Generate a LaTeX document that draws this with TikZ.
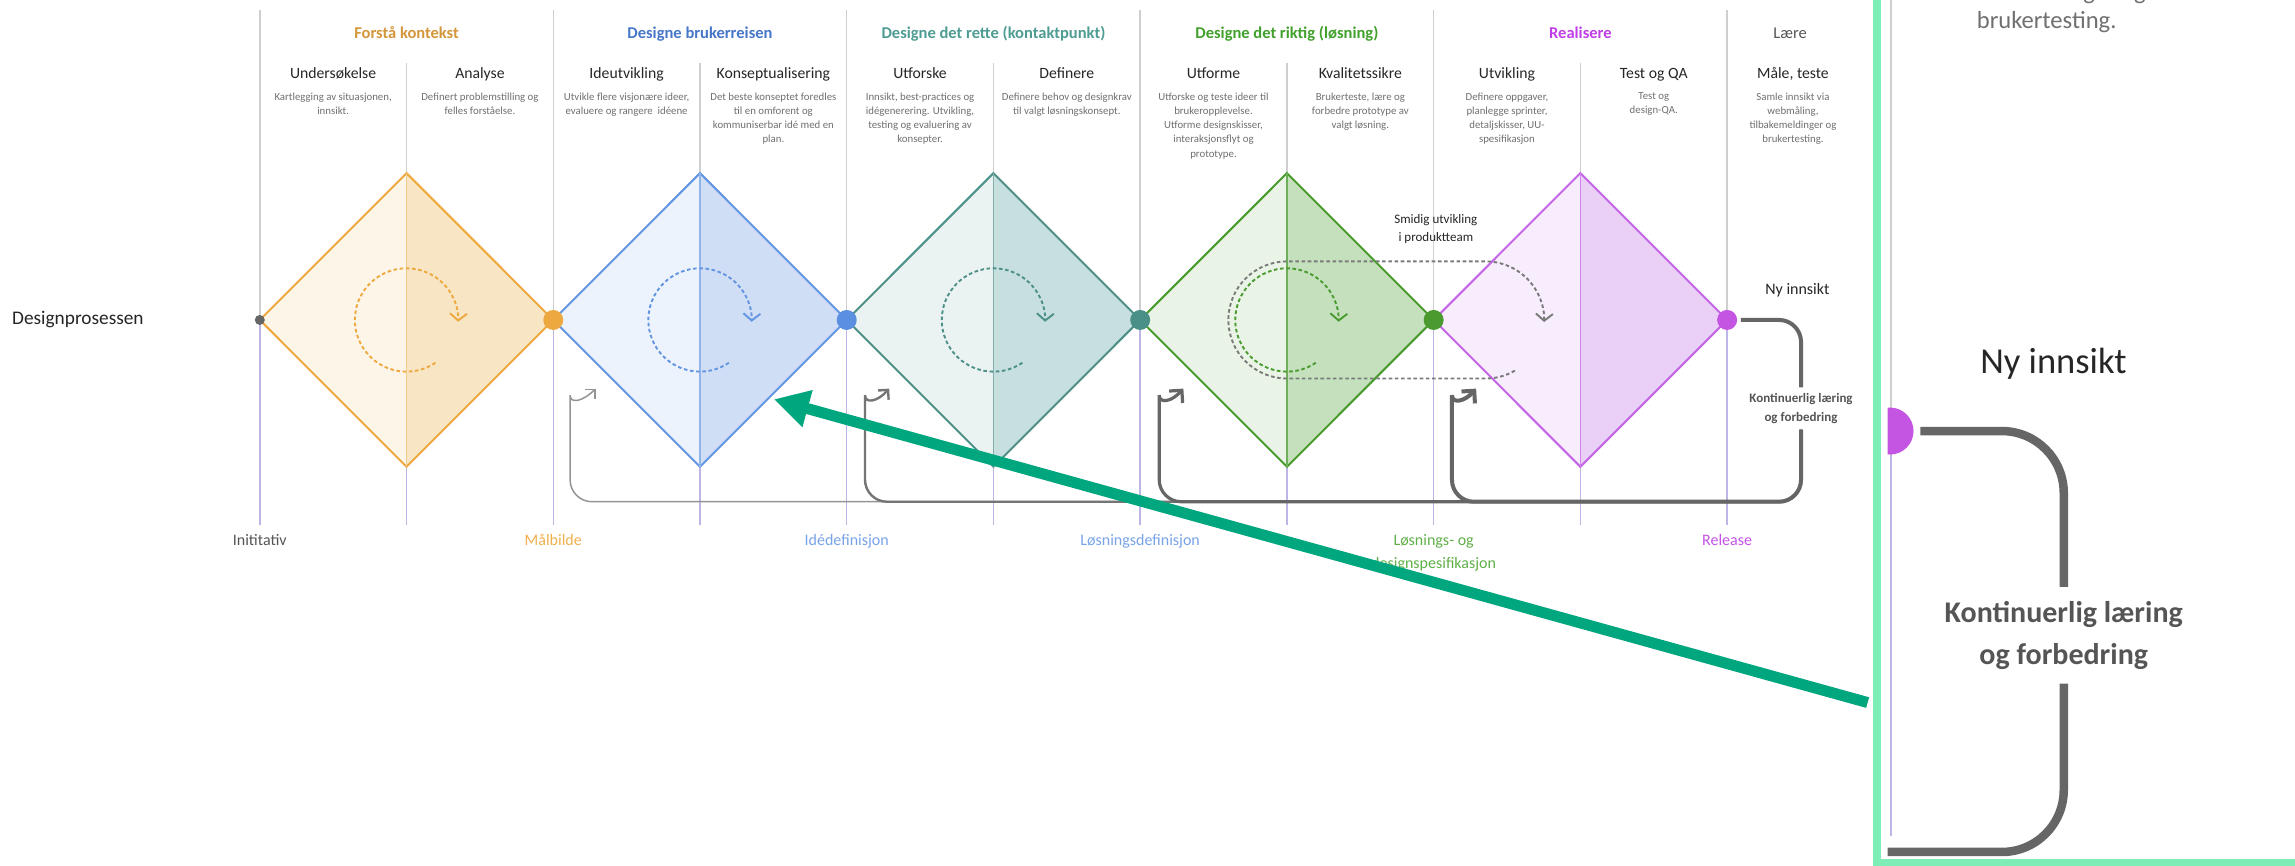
\documentclass[tikz,border=0pt]{standalone}
\usepackage{fontspec}
\setmainfont{Carlito}
\usepackage{tikz}
\usetikzlibrary{
  arrows.meta,
  positioning
}
\usepackage{color}
\definecolor{rulegrey}{HTML}{CFCFCF}
\definecolor{rulelav}{HTML}{BDB5E6}
\definecolor{darktext}{HTML}{262626}
\definecolor{midtext}{HTML}{555555}
\definecolor{blurbgrey}{HTML}{707070}
\definecolor{loopgrey}{HTML}{666666}
\definecolor{smidiggrey}{HTML}{7A7A7A}
\definecolor{arrowgreen}{HTML}{00A67E}
\definecolor{insetmint}{HTML}{7FEDB6}
\definecolor{orline}{HTML}{EDA940}
\definecolor{orleft}{HTML}{FDF5E7}
\definecolor{orright}{HTML}{F8E5C3}
\definecolor{ortext}{HTML}{D4963A}
\definecolor{orlabel}{HTML}{F0B04E}
\definecolor{blline}{HTML}{6495E0}
\definecolor{blleft}{HTML}{ECF3FD}
\definecolor{blright}{HTML}{CFDEF5}
\definecolor{bldot}{HTML}{5B8FDF}
\definecolor{bltext}{HTML}{4777C9}
\definecolor{bllabel}{HTML}{78A3EA}
\definecolor{tlline}{HTML}{4D9088}
\definecolor{tlleft}{HTML}{EAF3F2}
\definecolor{tlright}{HTML}{C7DFDF}
\definecolor{tldot}{HTML}{4A8F88}
\definecolor{tltext}{HTML}{4F9C93}
\definecolor{grline}{HTML}{4A9B30}
\definecolor{grleft}{HTML}{E9F3E6}
\definecolor{grright}{HTML}{C4E0BC}
\definecolor{grdot}{HTML}{4A9A30}
\definecolor{grtext}{HTML}{41A12C}
\definecolor{grlabel}{HTML}{5FB048}
\definecolor{puline}{HTML}{C266E6}
\definecolor{puleft}{HTML}{F8EDFC}
\definecolor{puright}{HTML}{EACFF6}
\definecolor{pudot}{HTML}{C455E2}
\definecolor{putext}{HTML}{C03FE6}
\definecolor{pulabel}{HTML}{C552E8}

\begin{document}
\begin{tikzpicture}[
      x=1.4636pt,y=-1.4636pt,
      phase title/.style={
         font=\bfseries\fontsize{16.5}{19}\selectfont,
         anchor=base,
         inner sep=0pt
      },
      subhead/.style={
         font=\fontsize{15.7}{19}\selectfont,
         text=darktext,
         anchor=base,
         inner sep=0pt
      },
      blurb/.style={
         font=\fontsize{10.8}{14.2}\selectfont,
         text=blurbgrey,
         align=center,
         anchor=north,
         inner sep=0pt
      },
      milestone/.style={
         font=\fontsize{16}{23}\selectfont,
         anchor=base,
         inner sep=0pt
      },
      gate/.style={circle,inner sep=0pt,minimum size=20pt},
      upper rule/.style={draw=rulegrey,line width=1.5pt},
      lower rule/.style={draw=rulelav,line width=1.5pt},
      rim/.style={line width=2pt,line join=miter},
      spin/.style={dash pattern=on 3.6pt off 2.6pt,line width=1.9pt,
         -{Straight Barb[length=7pt,width=17pt]}},
      back path/.style={rounded corners=22pt,draw=loopgrey},
      small tip/.style={-{Straight Barb[length=7pt,width=14pt]}},
      large tip/.style={-{Straight Barb[length=9pt,width=18pt]}},
    ]
    \useasboundingbox (0,0) rectangle (1568,591);
    \fill[white] (0,0) rectangle (1568,591);
    % rules
    \draw[upper rule] (177.5,6.8) -- (177.5,218.6) (378,6.8) -- (378,218.6)
       (578.5,6.8) -- (578.5,218.6) (779,6.8) -- (779,218.6)
       (979.5,6.8) -- (979.5,218.6) (1180,6.8) -- (1180,218.6);
    \draw[upper rule] (277.75,43) -- (277.75,118.3) (478.25,43) -- (478.25,118.3)
       (678.75,43) -- (678.75,118.3) (879.25,43) -- (879.25,118.3)
       (1079.75,43) -- (1079.75,118.3);
    \draw[lower rule] (177.5,218.6) -- (177.5,358.7) (378,218.6) -- (378,358.7)
       (578.5,218.6) -- (578.5,358.7) (779,218.6) -- (779,358.7)
       (979.5,218.6) -- (979.5,358.7) (1180,218.6) -- (1180,358.7);
    \draw[lower rule] (277.75,318.9) -- (277.75,358.7) (478.25,318.9) -- (478.25,358.7)
       (678.75,318.9) -- (678.75,358.7) (879.25,318.9) -- (879.25,358.7)
       (1079.75,318.9) -- (1079.75,358.7);
    % diamonds
    \fill[orleft] (177.5,218.6) -- (277.75,118.3) -- (277.75,318.9) -- cycle;
    \fill[orright] (277.75,118.3) -- (378,218.6) -- (277.75,318.9) -- cycle;
    \draw[rim,draw=orline] (177.5,218.6) -- (277.75,118.3) -- (378,218.6) -- (277.75,318.9) -- cycle;
    \draw[draw=orline!60,line width=1.5pt] (277.75,118.3) -- (277.75,318.9);
    \fill[blleft] (378,218.6) -- (478.25,118.3) -- (478.25,318.9) -- cycle;
    \fill[blright] (478.25,118.3) -- (578.5,218.6) -- (478.25,318.9) -- cycle;
    \draw[rim,draw=blline] (378,218.6) -- (478.25,118.3) -- (578.5,218.6) -- (478.25,318.9) -- cycle;
    \draw[draw=blline!70,line width=1.5pt] (478.25,118.3) -- (478.25,318.9);
    \fill[tlleft] (578.5,218.6) -- (678.75,118.3) -- (678.75,318.9) -- cycle;
    \fill[tlright] (678.75,118.3) -- (779,218.6) -- (678.75,318.9) -- cycle;
    \draw[rim,draw=tlline] (578.5,218.6) -- (678.75,118.3) -- (779,218.6) -- (678.75,318.9) -- cycle;
    \draw[draw=tlline!70,line width=1.5pt] (678.75,118.3) -- (678.75,318.9);
    \fill[grleft] (779,218.6) -- (879.25,118.3) -- (879.25,318.9) -- cycle;
    \fill[grright] (879.25,118.3) -- (979.5,218.6) -- (879.25,318.9) -- cycle;
    \draw[rim,draw=grline] (779,218.6) -- (879.25,118.3) -- (979.5,218.6) -- (879.25,318.9) -- cycle;
    \draw[draw=grline!80,line width=1.5pt] (879.25,118.3) -- (879.25,318.9);
    \fill[puleft] (979.5,218.6) -- (1079.75,118.3) -- (1079.75,318.9) -- cycle;
    \fill[puright] (1079.75,118.3) -- (1180,218.6) -- (1079.75,318.9) -- cycle;
    \draw[rim,draw=puline] (979.5,218.6) -- (1079.75,118.3) -- (1180,218.6) -- (1079.75,318.9) -- cycle;
    \draw[draw=puline!80,line width=1.5pt] (1079.75,118.3) -- (1079.75,318.9);
    % iteration circles
    \draw[spin,draw=orline] (277.75,218.6) ++(56:35.3) arc[start angle=56,end angle=362,radius=35.3];
    \draw[spin,draw=blline] (478.25,218.6) ++(56:35.3) arc[start angle=56,end angle=362,radius=35.3];
    \draw[spin,draw=tlline] (678.75,218.6) ++(56:35.3) arc[start angle=56,end angle=362,radius=35.3];
    \draw[spin,draw=grline] (879.25,218.6) ++(56:35.3) arc[start angle=56,end angle=362,radius=35.3];
    \draw[spin,draw=smidiggrey] (1015,218.6) ++(60:40) arc[start angle=60,end angle=90,radius=40]
       -- (879.25,258.6) arc[start angle=90,end angle=270,radius=40]
       -- (1015,178.6) arc[start angle=270,end angle=362,radius=40];
    % gates
    \node (g0) [gate,minimum size=10pt,fill=loopgrey] at (177.5,218.6) {};
    \node (g1) [gate,fill=orline] at (378,218.6) {};
    \node (g2) [gate,fill=bldot] at (578.5,218.6) {};
    \node (g3) [gate,fill=tldot] at (779,218.6) {};
    \node (g4) [gate,fill=grdot] at (979.5,218.6) {};
    \node (g5) [gate,fill=pudot] at (1180,218.6) {};
    % titles
    \node (t1) [phase title,text=ortext] at (277.75,26.1) {Forstå kontekst};
    \node (t2) [phase title,text=bltext] at (478.25,26.1) {Designe brukerreisen};
    \node (t3) [phase title,text=tltext] at (678.75,26.1) {Designe det rette (kontaktpunkt)};
    \node (t4) [phase title,text=grtext] at (879.25,26.1) {Designe det riktig (løsning)};
    \node (t5) [phase title,text=putext] at (1079.75,26.1) {Realisere};
    \node (t6) [phase title,font=\fontsize{16.5}{19}\selectfont,text=midtext] at (1223,26.1) {Lære};
    \node (s1) [subhead] at (227.6,53.4) {Undersøkelse};
    \node (s2) [subhead] at (327.9,53.4) {Analyse};
    \node (s3) [subhead] at (428.1,53.4) {Ideutvikling};
    \node (s4) [subhead] at (528.4,53.4) {Konseptualisering};
    \node (s5) [subhead] at (628.6,53.4) {Utforske};
    \node (s6) [subhead] at (728.9,53.4) {Definere};
    \node (s7) [subhead] at (829.1,53.4) {Utforme};
    \node (s8) [subhead] at (929.4,53.4) {Kvalitetssikre};
    \node (s9) [subhead] at (1029.6,53.4) {Utvikling};
    \node (s10) [subhead] at (1129.9,53.4) {Test og QA};
    \node (s11) [subhead] at (1225,53.4) {Måle, teste};
    \node (b1) [blurb] at (227.6,63.2) {Kartlegging av situasjonen,\\innsikt.};
    \node (b2) [blurb] at (327.9,63.2) {Definert problemstilling og\\felles forståelse.};
    \node (b3) [blurb] at (428.1,63.2) {Utvikle flere visjonære ideer,\\evaluere og rangere\ \ idéene};
    \node (b4) [blurb] at (528.4,63.2) {Det beste konseptet foredles\\til en omforent og\\kommuniserbar idé med en\\plan.};
    \node (b5) [blurb] at (628.6,63.2) {Innsikt, best-practices og\\idégenerering. Utvikling,\\testing og evaluering av\\konsepter.};
    \node (b6) [blurb] at (728.9,63.2) {Definere behov og designkrav\\til valgt løsningskonsept.};
    \node (b7) [blurb] at (829.1,63.2) {Utforske og teste ideer til\\brukeropplevelse.\\Utforme designskisser,\\interaksjonsflyt og\\prototype.};
    \node (b8) [blurb] at (929.4,63.2) {Brukerteste, lære og\\forbedre prototype av\\valgt løsning.};
    \node (b9) [blurb] at (1029.6,63.2) {Definere oppgaver,\\planlegge sprinter,\\detaljskisser, UU-\\spesifikasjon};
    \node (b10) [blurb] at (1129.9,63.2) {Test og\\design-QA.};
    \node (b11) [blurb] at (1225,63.2) {Samle innsikt via\\webmåling,\\tilbakemeldinger og\\brukertesting.};
    % milestones
    \node (m0) [milestone,text=midtext] at (177.5,372.4) {Inititativ};
    \node (m1) [milestone,text=orlabel] at (378,372.4) {Målbilde};
    \node (m2) [milestone,text=bllabel] at (578.5,372.4) {Idédefinisjon};
    \node (m3) [milestone,text=bllabel] at (779,372.4) {Løsningsdefinisjon};
    \node (m4) [milestone,text=grlabel,align=center,anchor=north] at (979.5,365.2) {Løsnings- og\\designspesifikasjon};
    \node (m5) [milestone,text=pulabel] at (1180,372.4) {Release};
    \node (lane) [font=\fontsize{19.3}{23}\selectfont,text=darktext,anchor=base west,inner sep=0pt] at (8.2,222) {Designprosessen};
    \node (team) [font=\fontsize{13}{18}\selectfont,text=darktext,align=center,anchor=north,inner sep=0pt] at (981,146.6) {Smidig utvikling\\i produktteam};
    \node (n1) [font=\fontsize{16}{19}\selectfont,text=darktext,anchor=base,inner sep=0pt] at (1228,201.4) {Ny innsikt};
    \node (k1) [font=\bfseries\fontsize{13}{18.7}\selectfont,text=midtext,align=center,inner xsep=0pt,inner ysep=6pt,anchor=north] at (1230.5,264.6) {Kontinuerlig læring\\og forbedring};
    % feedback
    \coordinate (h1) at (407,265.5);
    \coordinate (h2) at (607.5,265.5);
    \coordinate (h3) at (808.5,265.5);
    \coordinate (h4) at (1008.5,265.5);
    \draw[back path,line width=4pt,shorten <=3.6pt] (g5.east) -| (k1.north);
    \draw[back path,line width=1.5pt,draw=loopgrey!70,small tip] (k1.south) |- (389.5,342.8)
       -- (389.5,285) .. controls (389.5,276) and (398,274.5) .. (h1);
    \draw[back path,line width=2.4pt,draw=loopgrey!90,small tip] (k1.south) |- (591,342.8)
       -- (591,285) .. controls (591,276) and (599.5,274.5) .. (h2);
    \draw[back path,line width=3.2pt,large tip] (k1.south) |- (792,342.8)
       -- (792,285) .. controls (792,276) and (800.5,274.5) .. (h3);
    \draw[back path,line width=4pt,large tip] (k1.south) |- (992,342.8)
       -- (992,285) .. controls (992,276) and (1000.5,274.5) .. (h4);
    % inset
    \draw[draw=insetmint,line width=8pt] (1282.3,-10) rectangle (1600,589.6);
    \begin{scope}
      \clip (1289.7,-5) rectangle (1570,586.7);
      \draw[upper rule,line width=2.8pt] (1292,-5) -- (1292,294.5);
      \draw[lower rule,line width=2.8pt] (1292,294.5) -- (1292,571);
      \node (g6) [gate,minimum size=47pt,fill=pudot] at (1291.3,294.5) {};
      \node (b12) [font=\fontsize{24.6}{32}\selectfont,text=blurbgrey,anchor=base,inner sep=0pt] at (1398.3,-0.3) {tilbakemeldinger og};
      \node (b13) [font=\fontsize{24.6}{32}\selectfont,text=blurbgrey,anchor=base,inner sep=0pt] at (1398.3,19.3) {brukertesting.};
      \node (n2) [font=\fontsize{36.5}{44}\selectfont,text=darktext,anchor=base,inner sep=0pt] at (1403,255.5) {Ny innsikt};
      \node (k2) [font=\bfseries\fontsize{30}{42}\selectfont,text=midtext,align=center,inner xsep=0pt,inner ysep=14pt,anchor=north] at (1410,401) {Kontinuerlig læring\\og forbedring};
      \coordinate (k3) at (1280,582.1);
      \draw[rounded corners=62pt,draw=loopgrey,line width=8.5pt,shorten <=6.7pt] (g6.east) -| (k2.north);
      \draw[rounded corners=62pt,draw=loopgrey,line width=8.5pt] (k2.south) |- (k3);
    \end{scope}
    \coordinate (z1) at (1276,480);
    \coordinate (z2) at (528.7,272.8);
    \draw[draw=arrowgreen,line width=11pt,-{Triangle[length=35pt,width=36pt]}] (z1) -- (z2);
\end{tikzpicture}
\end{document}
